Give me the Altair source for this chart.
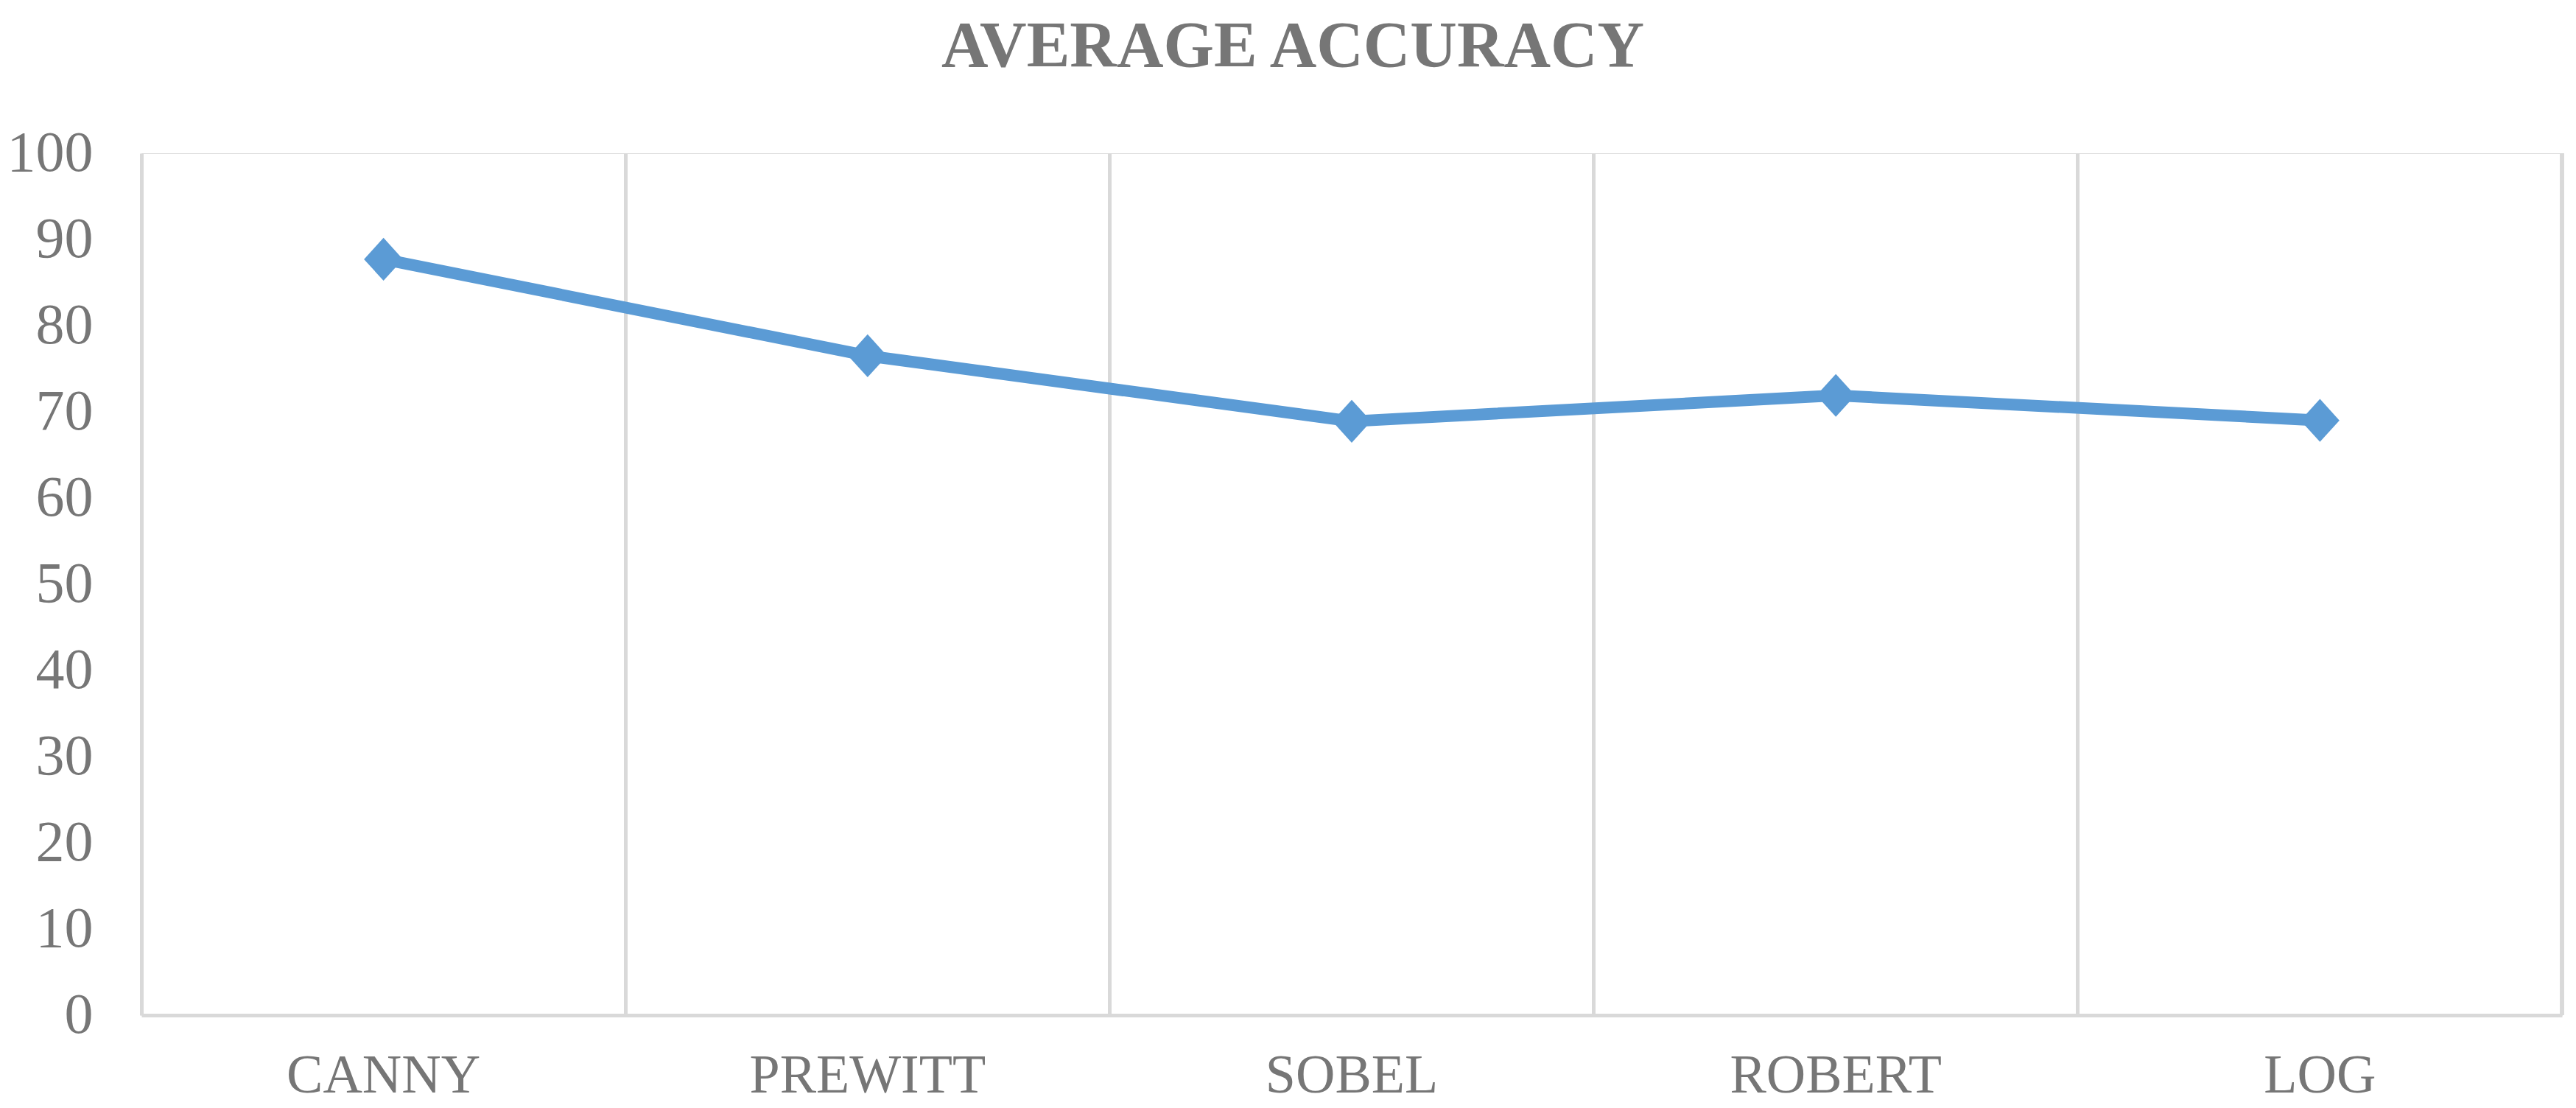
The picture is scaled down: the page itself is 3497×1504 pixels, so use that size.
import altair as alt
import pandas as pd

# ---- data ----
categories = ["CANNY", "PREWITT", "SOBEL", "ROBERT", "LOG"]
accuracy = [87.7, 76.5, 68.9, 71.9, 69.0]
y_ticks = [0, 10, 20, 30, 40, 50, 60, 70, 80, 90, 100]

df = pd.DataFrame({"method": categories, "accuracy": accuracy})

W, H = 3286, 1170
TEXT = "#767676"
GRID = "#d9d9d9"
BLUE = "#5B9BD5"
FONT = "Liberation Serif"

xscale = alt.Scale(type="band", domain=categories, paddingInner=0, paddingOuter=0)

x_axis = alt.Axis(
    title=None, labelAngle=0, labelFont=FONT, labelFontSize=74, labelColor=TEXT,
    labelPadding=104, labelBaseline="alphabetic", labelLimit=0, ticks=False,
    domain=True, domainColor=GRID, domainWidth=5,
    grid=True, gridColor=GRID, gridWidth=5, gridOpacity=1, bandPosition=0,
)
y_axis = alt.Axis(
    title=None, values=y_ticks, labelFont=FONT, labelFontSize=78, labelColor=TEXT,
    labelPadding=66, labelLimit=0, ticks=False, domain=False, grid=False,
)

base = alt.Chart(df).encode(
    x=alt.X("method:N", sort=categories, scale=xscale, axis=x_axis, bandPosition=0.5),
    y=alt.Y("accuracy:Q", scale=alt.Scale(domain=[0, 100], nice=False), axis=y_axis),
)

line = base.mark_line(color=BLUE, strokeWidth=16, strokeJoin="round")
points = base.mark_point(
    shape="M0,-1.1L1,0L0,1.1L-1,0Z", size=2800, filled=True, color=BLUE, opacity=1
)

right_edge = alt.Chart(df).mark_rule(color=GRID, strokeWidth=5).encode(
    x=alt.X(datum="LOG", type="nominal", bandPosition=1, scale=xscale)
)

chart = alt.layer(line, points, right_edge).properties(
    width=W, height=H,
    title=alt.TitleParams(
        "AVERAGE ACCURACY", font=FONT, fontSize=88, fontWeight="bold", color=TEXT,
        anchor="middle", baseline="alphabetic", offset=-9, dx=-80,
    ),
    autosize=alt.AutoSizeParams(type="none"),
    padding={"left": 184, "top": 200, "right": 11, "bottom": 126},
).configure_view(strokeOpacity=0).configure(background="white")

chart.save("out.html", embed_options={"renderer": "svg", "actions": False})
